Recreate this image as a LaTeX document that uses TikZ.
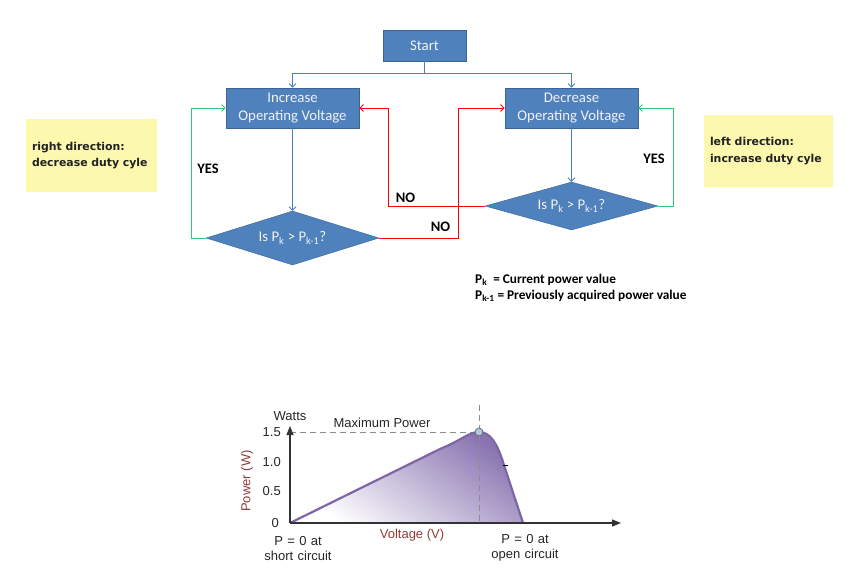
\documentclass[tikz,border=0pt]{standalone}
\usepackage{fontspec}
\setmainfont{Carlito}
\newfontfamily\notefam{DejaVu Sans}
\newfontfamily\chartfam{Liberation Sans}
\usetikzlibrary{shapes.geometric,arrows.meta}

\definecolor{boxblue}{HTML}{4F81BD}
\definecolor{boxedge}{HTML}{3B6396}
\definecolor{lineblue}{HTML}{4A7EBB}
\definecolor{yesgreen}{HTML}{2ECC71}
\definecolor{noteyellow}{HTML}{FCF8AE}
\definecolor{notetext}{HTML}{222222}
\definecolor{curvepurple}{HTML}{7C66A6}
\definecolor{fillpurple}{HTML}{7C64A8}
\definecolor{axistext}{HTML}{8E3B3B}
\definecolor{mppblue}{HTML}{AFC6DD}

\newcommand{\flowfont}{\fontsize{14.8}{18}\selectfont}
\newcommand{\chartfont}{\chartfam\fontsize{13}{15.5}\selectfont}

\begin{document}
\begin{tikzpicture}[x=1pt,y=-1pt,
    >={Straight Barb[length=3.5pt,width=7pt]},
    flowbox/.style={draw=boxedge,fill=boxblue,text=white!95!black,font=\flowfont,align=center,line width=0.8pt,inner sep=0pt},
    test/.style={diamond,draw=boxedge,fill=boxblue,text=white!95!black,font=\flowfont,shape aspect=3.2,inner sep=0pt,minimum width=173},
    blueline/.style={draw=lineblue,line width=0.8pt,->},
    noline/.style={draw=red,line width=0.8pt,->},
    yesline/.style={draw=yesgreen,line width=0.8pt,->},
    answer/.style={font=\fontsize{14.5}{17}\selectfont\bfseries},
    legend/.style={anchor=west,font=\fontsize{13.3}{15}\selectfont\bfseries,inner sep=0pt},
    note/.style={fill=noteyellow,text=notetext,font=\notefam\bfseries\fontsize{10.9}{16.5}\selectfont,align=left,inner xsep=6pt,inner ysep=0pt},
    chartlabel/.style={font=\chartfont,text=black!85,align=center,inner sep=0pt},
    ticklabel/.style={font=\chartfont,text=black!85,anchor=east,inner sep=0pt}]
  \useasboundingbox (0,0) rectangle (867,576);

  % flowchart
  \node[flowbox,minimum width=83,minimum height=31] (start) at (424.5,45.5) {Start};
  \node[flowbox,minimum width=133,minimum height=40] (inc) at (292.5,108) {Increase\\Operating Voltage};
  \node[flowbox,minimum width=133,minimum height=40] (dec) at (571.5,108) {Decrease\\Operating Voltage};
  \node[test,minimum height=54] (testl) at (292.5,238) {Is P\textsubscript{k} > P\textsubscript{k-1}?};
  \node[test,minimum height=48] (testr) at (571.5,206) {Is P\textsubscript{k} > P\textsubscript{k-1}?};
  \coordinate (split) at (424.5,73);

  \draw[blueline] (start.south) -- (split) -| (inc.north);
  \draw[blueline] (split) -| (dec.north);
  \draw[blueline] (inc) -- (testl);
  \draw[blueline] (dec) -- (testr);
  \draw[yesline] (testl.west) -- ++(-14,0) |- (inc.west);
  \draw[yesline] (testr.east) -- ++(15,0) |- (dec.east);
  \draw[noline] (testr.west) -- ++(-96,0) |- (inc.east);
  \draw[noline] (testl.east) -- ++(79,0) |- (dec.west);

  \node[answer] (yesl) at (208,169) {YES};
  \node[answer] (yesr) at (654,159) {YES};
  \node[answer] (nor) at (405.5,198) {NO};
  \node[answer] (nol) at (440.5,227) {NO};

  \node[legend] (pk) at (475,280) {P\textsubscript{k}\ \ = Current power value};
  \node[legend] (pkm) at (475,296) {P\textsubscript{k-1} = Previously acquired power value};

  \node[note,text width=119,minimum height=73] (right) at (91.5,155.5) {right direction:\\decrease duty cyle};
  \node[note,text width=117,minimum height=72] (left) at (768.5,151) {left direction:\\increase duty cyle};

  % P-V curve
  \shade[top color=fillpurple!90,bottom color=white,shading angle=-35]
    (290,523) -- (440,449) .. controls (462,440) and (469,432) .. (479,432)
    .. controls (490,432) and (497,443) .. (503,462) -- (523,523) -- cycle;
  \draw[black!45,dashed,dash pattern=on 6pt off 4pt,line width=0.7pt] (290,432) -- (479,432);
  \draw[black!45,dashed,dash pattern=on 6pt off 4pt,line width=0.7pt] (479,405) -- (479,523);
  \draw[curvepurple,line width=2.2pt,line join=round]
    (290,523) -- (440,449) .. controls (462,440) and (469,432) .. (479,432)
    .. controls (490,432) and (497,443) .. (503,462) -- (523,523);
  \draw[black,line width=0.8pt] (503,465) -- (508,465);
  \draw[black!80,line width=1.2pt,-{Triangle[length=9pt,width=7pt]}] (290,523) -- (621,523);
  \draw[black!80,line width=1.2pt,-{Triangle[length=9pt,width=7pt]}] (290,523) -- (290,426);
  \node[circle,draw=black!60,fill=mppblue,line width=0.7pt,minimum size=8,inner sep=0pt] (mpp) at (479,432) {};

  \node[chartlabel] (watts) at (290,416) {Watts};
  \node[chartlabel] (maxp) at (382,423) {Maximum Power};
  \node[ticklabel] (t15) at (281,432) {1.5};
  \node[ticklabel] (t10) at (281,462) {1.0};
  \node[ticklabel] (t05) at (281,491) {0.5};
  \node[ticklabel] (t0) at (279,523) {0};
  \node[chartlabel,text=axistext,rotate=90] (powerw) at (247,481) {Power (W)};
  \node[chartlabel,text=axistext] (voltv) at (412,535) {Voltage (V)};
  \node[chartlabel,text width=90] (shortc) at (298,548.5) {P = 0 at\\short circuit};
  \node[chartlabel,text width=90] (openc) at (525,548) {P = 0 at\\open circuit};
\end{tikzpicture}
\end{document}
